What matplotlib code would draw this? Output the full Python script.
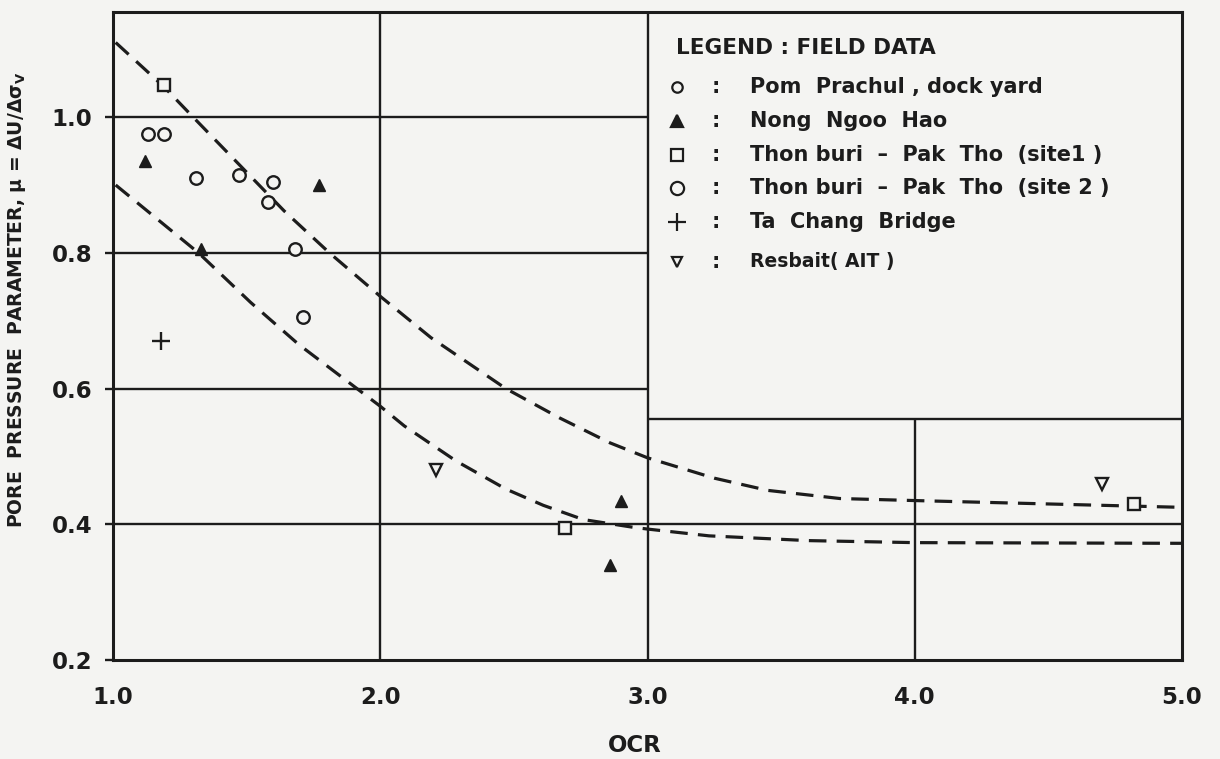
import matplotlib
matplotlib.use("Agg")
import matplotlib.pyplot as plt

# ---- field data: OCR vs pore pressure parameter ----
circle_ocr = [1.13, 1.19, 1.31, 1.47, 1.60, 1.58, 1.68, 1.71]
circle_mu = [0.975, 0.975, 0.91, 0.915, 0.905, 0.875, 0.805, 0.705]

nong_ocr = [1.12, 1.33, 1.77, 2.90, 2.86]
nong_mu = [0.935, 0.805, 0.90, 0.435, 0.34]

site1_ocr = [1.19, 2.69, 4.82]
site1_mu = [1.047, 0.395, 0.43]

tachang_ocr = [1.18]
tachang_mu = [0.67]

resbait_ocr = [2.21, 4.70]
resbait_mu = [0.48, 0.46]

# ---- dashed boundary curves ----
upper_ocr = [1.01, 1.19, 1.30, 1.64, 1.81, 2.00, 2.19, 2.47, 2.67, 2.86,
             3.00, 3.25, 3.45, 3.72, 4.00, 4.50, 5.00]
upper_mu = [1.11, 1.045, 1.00, 0.862, 0.80, 0.736, 0.675, 0.60, 0.557, 0.52,
            0.498, 0.468, 0.45, 0.438, 0.435, 0.43, 0.425]

lower_ocr = [1.01, 1.32, 1.515, 1.695, 2.00, 2.09, 2.285, 2.47, 2.61, 2.76,
             2.94, 3.00, 3.23, 3.60, 4.00, 5.00]
lower_mu = [0.90, 0.80, 0.727, 0.665, 0.574, 0.545, 0.493, 0.452, 0.428,
            0.407, 0.396, 0.393, 0.383, 0.376, 0.373, 0.372]

# ---- axes ----
x_ticks = [1.0, 2.0, 3.0, 4.0, 5.0]
x_labels = ["1.0", "2.0", "3.0", "4.0", "5.0"]
y_ticks = [0.2, 0.4, 0.6, 0.8, 1.0]
y_labels = ["0.2", "0.4", "0.6", "0.8", "1.0"]

legend_title = "LEGEND : FIELD DATA"
legend_rows = [
    ("o", 7.5, "none", "Pom  Prachul , dock yard", 15),
    ("^", 8, "ink", "Nong  Ngoo  Hao", 15),
    ("s", 8, "none", "Thon buri  –  Pak  Tho  (site1 )", 15),
    ("o", 9.5, "none", "Thon buri  –  Pak  Tho  (site 2 )", 15),
    ("+", 13, "none", "Ta  Chang  Bridge", 15),
    ("v", 7, "none", "Resbait( AIT )", 13.5),
]

INK = "#1c1c1c"
PAPER = "#f4f4f2"
FONT = "DejaVu Sans"

plt.rcParams["font.family"] = [FONT]
plt.rcParams["font.weight"] = "bold"
plt.rcParams["mathtext.default"] = "bf"

fig = plt.figure(figsize=(12.2, 7.59), dpi=100, facecolor=PAPER)
ax = fig.add_axes([113 / 1220, 0.1304, 1069 / 1220, 0.8538])
ax.set_facecolor(PAPER)
ax.set_xlim(1.0, 5.0)
ax.set_ylim(0.2, 1.155)

for s in ax.spines.values():
    s.set_color(INK)
    s.set_linewidth(2.2)

# grid: left half stops at the legend panel, which spans OCR 3.0-5.0
box_bottom = 0.555
grid_kw = dict(color=INK, lw=1.7, zorder=1)
for yv in y_ticks[1:]:
    x_end = x_ticks[-1] if yv < box_bottom else x_ticks[2]
    ax.hlines(yv, x_ticks[0], x_end, **grid_kw)
for xv in x_ticks[1:3]:
    ax.vlines(xv, y_ticks[0], 1.155, **grid_kw)
ax.vlines(x_ticks[3], y_ticks[0], box_bottom, **grid_kw)
ax.hlines(box_bottom, x_ticks[2], x_ticks[-1], **grid_kw)

# boundary curves
dash_kw = dict(color=INK, lw=2.3, dashes=(5.5, 3.2), zorder=2)
ax.plot(upper_ocr, upper_mu, **dash_kw)
ax.plot(lower_ocr, lower_mu, **dash_kw)

# field data markers
ax.plot(circle_ocr, circle_mu, ls="none", marker="o", ms=9, mfc=PAPER,
        mec=INK, mew=1.7, zorder=4)
ax.plot(nong_ocr, nong_mu, ls="none", marker="^", ms=9, mfc=INK,
        mec=INK, mew=1.0, zorder=4)
ax.plot(site1_ocr, site1_mu, ls="none", marker="s", ms=9, mfc=PAPER,
        mec=INK, mew=1.7, zorder=4)
ax.plot(tachang_ocr, tachang_mu, ls="none", marker="+", ms=13,
        mec=INK, mew=1.7, zorder=4)
ax.plot(resbait_ocr, resbait_mu, ls="none", marker="v", ms=8.5, mfc=PAPER,
        mec=INK, mew=1.7, zorder=4)

# ticks and labels
ax.set_xticks(x_ticks)
ax.set_xticklabels(x_labels)
ax.set_yticks(y_ticks)
ax.set_yticklabels(y_labels)
ax.tick_params(axis="x", length=0, pad=19, labelsize=16.5, labelcolor=INK)
ax.tick_params(axis="y", length=6, width=1.7, color=INK, pad=9,
               labelsize=16.5, labelcolor=INK)
for lab in ax.get_xticklabels() + ax.get_yticklabels():
    lab.set_fontweight("bold")

fig.text(635 / 1220, 1 - 745 / 759, "OCR", ha="center", va="center",
         fontsize=16.5, color=INK, fontweight="bold")
fig.text(17 / 1220, 1 - 300 / 759,
         r"PORE  PRESSURE  PARAMETER, $\mu$ = $\Delta$U/$\Delta\sigma_V$",
         rotation=90, ha="center", va="center", fontsize=13.5, color=INK,
         fontweight="bold")

# legend panel
ax.text(3.105, 1.102, legend_title, ha="left", va="center", fontsize=15.5,
        color=INK, fontweight="bold")
row_y = [1.045, 0.994, 0.944, 0.896, 0.846, 0.787]
for (mk, ms, fill, label, fs), yy in zip(legend_rows, row_y):
    ax.plot([3.11], [yy], ls="none", marker=mk, ms=ms,
            mfc=INK if fill == "ink" else "none", mec=INK, mew=1.6,
            clip_on=False, zorder=5)
    ax.text(3.255, yy, ":", ha="center", va="center", fontsize=15,
            color=INK, fontweight="bold")
    ax.text(3.383, yy, label, ha="left", va="center", fontsize=fs,
            color=INK, fontweight="bold")

fig.savefig("out.png", dpi=100, facecolor=PAPER)
